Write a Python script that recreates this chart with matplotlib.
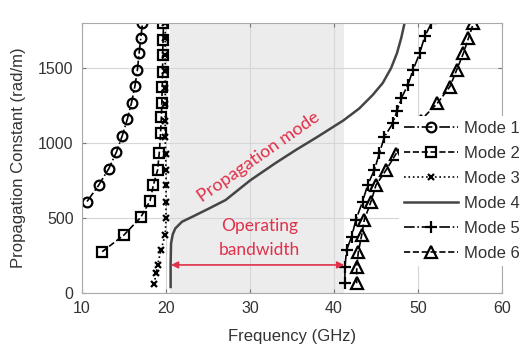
import matplotlib.pyplot as plt

plt.rcParams['font.family'] = ['Liberation Sans', 'DejaVu Sans']

# Mode 1 (circles)
m1_f = [10.6, 12.0, 13.2, 14.1, 14.8, 15.4, 15.9, 16.3, 16.6, 16.8, 17.0, 17.2]
m1_b = [610, 720, 830, 940, 1050, 1160, 1270, 1380, 1490, 1600, 1700, 1800]

# Mode 2 (squares)
m2_f = [12.4, 15.0, 17.0, 18.1, 18.5, 19.0, 19.2, 19.35, 19.45, 19.5, 19.55, 19.6, 19.6, 19.65, 19.7]
m2_b = [275, 387, 505, 615, 720, 820, 935, 1064, 1175, 1264, 1375, 1475, 1587, 1687, 1800]

# Mode 3 (x markers)
m3_f = [18.6, 18.8, 19.0, 19.4, 19.9, 20.0, 20.0, 20.0, 20.0, 19.95, 19.9, 19.9, 19.9, 19.9, 19.9, 19.9, 19.9, 19.9]
m3_b = [60, 130, 187, 285, 387, 498, 609, 720, 820, 930, 1040, 1150, 1260, 1370, 1480, 1590, 1700, 1800]

# Mode 4 (solid line)
m4_f = [20.55, 20.55, 20.6, 20.8, 21.1, 21.9, 23.2, 25.0, 27.1, 30.0, 33.0, 35.5, 38.0, 41.1,
        43.0, 44.6, 45.8, 46.8, 47.5, 48.0, 48.4]
m4_b = [40, 200, 330, 390, 430, 475, 510, 560, 620, 750, 865, 955, 1040, 1150,
        1230, 1320, 1400, 1500, 1600, 1700, 1800]

# Mode 5 (plus)
m5_f = [41.3, 41.3, 41.5, 42.1, 42.6, 43.4, 44.0, 44.8, 45.4, 46.0, 47.0, 47.5, 48.0, 48.8, 49.4, 50.2, 50.8, 51.6]
m5_b = [65, 176, 287, 376, 487, 609, 720, 820, 931, 1042, 1131, 1215, 1298, 1387, 1487, 1598, 1711, 1800]

# Mode 6 (triangles)
m6_f = [42.7, 42.7, 42.9, 43.3, 43.6, 44.4, 45.0, 46.2, 47.4, 48.8, 50.3, 52.3, 53.8, 54.6, 55.4, 56.0, 56.6]
m6_b = [65, 176, 275, 387, 487, 609, 720, 820, 930, 1040, 1150, 1265, 1376, 1487, 1598, 1698, 1800]

band_lo, band_hi = 20.5, 41.2
red = '#e0304a'

fig = plt.figure(figsize=(5.27, 3.49), dpi=100)
ax = fig.add_axes([0.1556, 0.1605, 0.797, 0.7735])

ax.axvspan(band_lo, band_hi, color='#ececec', zorder=0.2, lw=0)

ax.plot(m1_f, m1_b, '-.', color='k', lw=1.2, marker='o', ms=7, mfc='none', mew=1.6, label='Mode 1')
ax.plot(m2_f, m2_b, '--', color='k', lw=1.2, marker='s', ms=7, mfc='none', mew=1.6, label='Mode 2')
ax.plot(m3_f, m3_b, ':', color='k', lw=1.2, marker='x', ms=4, mew=1.6, label='Mode 3')
ax.plot(m4_f, m4_b, '-', color='#454545', lw=1.8, label='Mode 4')
ax.plot(m5_f, m5_b, '-.', color='k', lw=1.2, marker='+', ms=9, mew=1.6, label='Mode 5')
ax.plot(m6_f, m6_b, '--', color='k', lw=1.2, marker='^', ms=8, mfc='none', mew=1.6, label='Mode 6')

ax.annotate('', xy=(band_lo + 0.1, 187), xytext=(band_hi, 187),
            arrowprops=dict(arrowstyle='<|-|>', color=red, lw=1.2, mutation_scale=10,
                            shrinkA=0, shrinkB=0))
ax.text(31.1, 367, 'Operating\nbandwidth', color=red, fontsize=12.5, family='Lato',
        ha='center', va='center', linespacing=1.55)
ax.text(31.0, 910, 'Propagation mode', color=red, fontsize=13, family='Lato',
        ha='center', va='center', rotation=35)

ax.set_xlim(10, 60)
ax.set_ylim(0, 1800)
ax.set_xticks([10, 20, 30, 40, 50, 60])
ax.set_yticks([0, 500, 1000, 1500])
ax.grid(True, color='#d6d6d6', lw=0.8)
ax.set_axisbelow(True)
ax.tick_params(direction='in', length=3, width=0.8, color='#777777', top=True, right=True,
               labelsize=11.5, labelcolor='#333333', pad=6)
for s in ax.spines.values():
    s.set_color('#aaaaaa')
    s.set_linewidth(0.8)

ax.set_xlabel('Frequency (GHz)', fontsize=12, color='#333333', labelpad=9)
ax.set_ylabel('Propagation Constant (rad/m)', fontsize=12, color='#333333', labelpad=9)

leg = ax.legend(loc='center left', bbox_to_anchor=(0.758, 0.453), bbox_transform=fig.transFigure,
                fontsize=12, frameon=True, facecolor='white', edgecolor='none', framealpha=1,
                handlelength=3.2, handletextpad=0.4, labelspacing=0.6, borderpad=0.3,
                borderaxespad=0)
for t in leg.get_texts():
    t.set_color('#333333')
leg.set_zorder(5)

fig.savefig('out.png', dpi=100)
